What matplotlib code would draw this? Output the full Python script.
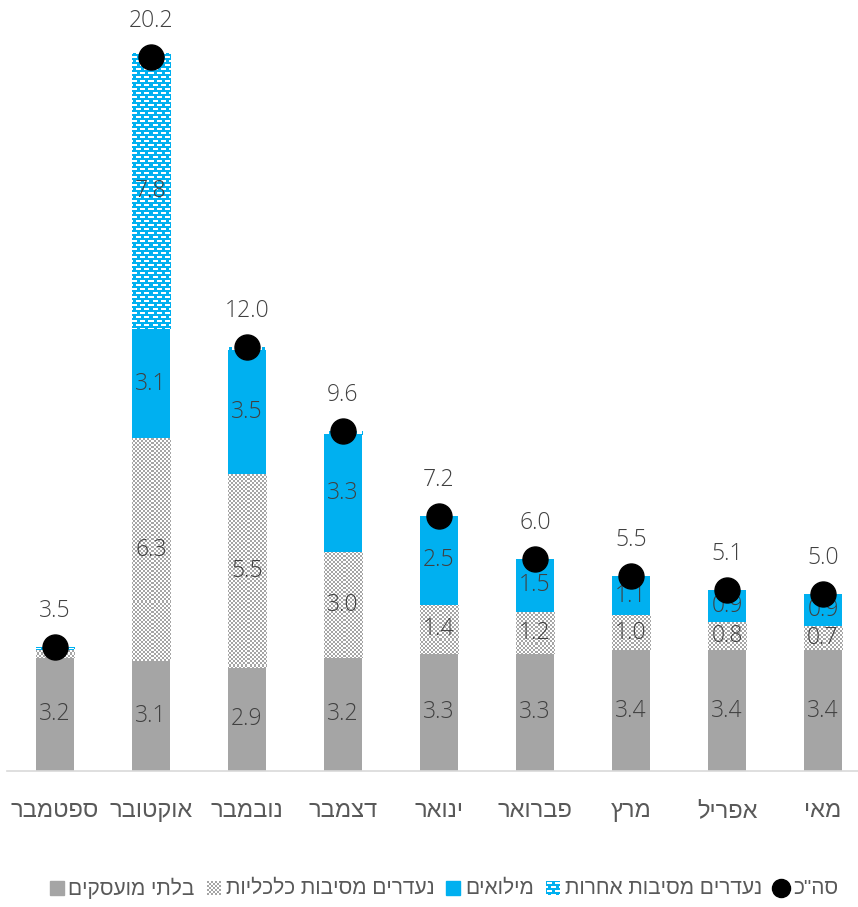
import numpy as np
import matplotlib
matplotlib.use("Agg")
import matplotlib.pyplot as plt
from matplotlib.patches import Rectangle
from matplotlib.lines import Line2D

plt.rcParams['font.family'] = ['Open Sans', 'DejaVu Sans']
HEB = ['Liberation Sans', 'DejaVu Sans']

# ---- data ----
months = ['ספטמבר', 'אוקטובר', 'נובמבר', 'דצמבר', 'ינואר', 'פברואר', 'מרץ', 'אפריל', 'מאי']
unemployed = [3.2, 3.1, 2.9, 3.2, 3.3, 3.3, 3.4, 3.4, 3.4]
economic = [0.2, 6.3, 5.5, 3.0, 1.4, 1.2, 1.0, 0.8, 0.7]
reserve = [0.05, 3.1, 3.5, 3.3, 2.5, 1.5, 1.1, 0.9, 0.9]
other = [0.05, 7.8, 0.1, 0.1, 0.0, 0.0, 0.0, 0.0, 0.0]
total = [3.5, 20.2, 12.0, 9.6, 7.2, 6.0, 5.5, 5.1, 5.0]

series_names = ['בלתי מועסקים', 'נעדרים מסיבות כלכליות', 'מילואים', 'נעדרים מסיבות אחרות', 'סה"כ']

GRAY = '#a5a5a5'
BLUE = '#00b0f0'
TXT = '#404040'
TICK = '#595959'


def rtl(s):
    return s[::-1]


def hexrgb(h):
    return np.array([int(h[i:i + 2], 16) / 255 for i in (1, 3, 5)])


# pattern tiles
checker = np.ones((4, 4, 3))
for i in range(4):
    for j in range(4):
        if ((i // 2) + (j // 2)) % 2 == 0:
            checker[i, j] = hexrgb(GRAY)

bricks = np.tile(hexrgb(BLUE), (8, 8, 1))
for j in range(1, 6):
    bricks[1:3, j] = 1.0
for j in (5, 6, 7, 0, 1):
    bricks[5:7, j] = 1.0


def tiled(tile, h, w):
    reps = (h // tile.shape[0] + 1, w // tile.shape[1] + 1, 1)
    return np.tile(tile, reps)[:h, :w]


W, H = 858, 907
fig = plt.figure(figsize=(W / 100, H / 100), dpi=100)

unit_x = 96.0
unit_y = 35.33
xlim = (-0.5, len(months) - 0.5)
ylim = (0, 21.5)
ax_w = unit_x * (xlim[1] - xlim[0])
ax_h = unit_y * (ylim[1] - ylim[0])
base_y = 770.6
ax_left = 55 - unit_x / 2
ax = fig.add_axes([ax_left / W, (H - base_y) / H, ax_w / W, ax_h / H])

x = np.arange(len(months))
bw = 0.4

u = np.array(unemployed)
e = np.array(economic)
r = np.array(reserve)
o = np.array(other)

b_u = ax.bar(x, u, bw, color=GRAY, zorder=2)
b_e = ax.bar(x, e, bw, bottom=u, color='white', zorder=2)
b_r = ax.bar(x, r, bw, bottom=u + e, color=BLUE, zorder=2)
b_o = ax.bar(x, o, bw, bottom=u + e + r, color=BLUE, zorder=2)

ph, pw = int(round(ax_h)), int(round(ax_w))
img_checker = tiled(checker, ph, pw)
img_bricks = tiled(bricks, ph, pw)
for bars, img in ((b_e, img_checker), (b_o, img_bricks)):
    for rect in bars:
        if rect.get_height() <= 0:
            continue
        im = ax.imshow(img, extent=(xlim[0], xlim[1], ylim[0], ylim[1]),
                       origin='upper', aspect='auto', interpolation='nearest', zorder=3)
        im.set_clip_path(rect)

# segment value labels
for vals, bottoms in ((u, 0 * u), (e, u), (r, u + e), (o, u + e + r)):
    for xi, v, b in zip(x, vals, bottoms):
        if v >= 0.5:
            ax.text(xi, b + v / 2, f'{v:.1f}', ha='center', va='center',
                    fontsize=16.5, fontweight='light', color=TXT, zorder=4)

# totals
ax.plot(x, total, 'o', color='black', markersize=18, zorder=5, clip_on=False)
for xi, t in zip(x, total):
    ax.annotate(f'{t:.1f}', (xi, t), xytext=(0, 26), textcoords='offset points',
                ha='center', va='center', fontsize=16.5, fontweight='light', color=TXT,
                annotation_clip=False)

ax.set_xlim(*xlim)
ax.set_ylim(*ylim)
ax.set_xticks(x)
ax.set_xticklabels([rtl(m) for m in months], fontsize=17, color=TICK, family=HEB)
ax.tick_params(axis='x', length=0, pad=21)
ax.set_yticks([])
for s in ('top', 'left', 'right'):
    ax.spines[s].set_visible(False)
ax.spines['bottom'].set_color('#d9d9d9')
ax.spines['bottom'].set_linewidth(1.2)
ax.spines['bottom'].set_zorder(6)

# legend, laid out in pixels
renderer = fig.canvas.get_renderer()
leg_y = 888
msz = 14
gap_mt = 5
gap_item = 12
fs_leg = 15


def fx(px):
    return px / W


def fy(py):
    return (H - py) / H


texts = []
widths = []
for name in series_names:
    t = fig.text(0, fy(leg_y), rtl(name), fontsize=fs_leg, color=TICK, va='center', ha='left',
                 family=HEB)
    texts.append(t)
    widths.append(t.get_window_extent(renderer).width)

total_w = sum(msz + gap_mt + w for w in widths) + gap_item * (len(widths) - 1)
cur = 444 - total_w / 2
for k, (t, w) in enumerate(zip(texts, widths)):
    mx = cur
    if k == 0:
        fig.add_artist(Rectangle((fx(mx), fy(leg_y + msz / 2)), msz / W, msz / H,
                                 transform=fig.transFigure, color=GRAY))
    elif k == 2:
        fig.add_artist(Rectangle((fx(mx), fy(leg_y + msz / 2)), msz / W, msz / H,
                                 transform=fig.transFigure, color=BLUE))
    elif k in (1, 3):
        sub = fig.add_axes([fx(mx), fy(leg_y + msz / 2), msz / W, msz / H])
        sub.imshow(tiled(checker if k == 1 else bricks, msz, msz),
                   interpolation='nearest', aspect='auto')
        sub.axis('off')
    else:
        fig.add_artist(Line2D([fx(mx + msz / 2)], [fy(leg_y)], marker='o', markersize=13,
                              color='black', transform=fig.transFigure))
    t.set_x(fx(mx + msz + gap_mt))
    cur = mx + msz + gap_mt + w + gap_item

fig.savefig('out.png', dpi=100)
